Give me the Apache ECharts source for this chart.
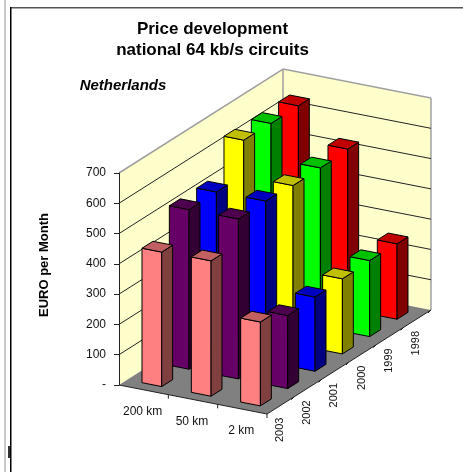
<!DOCTYPE html>
<html>
<head>
<meta charset="utf-8">
<style>html,body{margin:0;padding:0;background:#fff}#c{width:463px;height:472px}</style>
<script src="https://cdn.jsdelivr.net/npm/echarts@6/dist/echarts.min.js"></script>
</head>
<body>
<div id="c"></div>
<script>
var categories = ['200 km', '50 km', '2 km'];
var years = ['2003', '2002', '2001', '2000', '1999', '1998'];
var yTicks = [100, 200, 300, 400, 500, 600];
var v1998 = [641, 530, 249];
var v1999 = [640, 525, 251];
var v2000 = [642, 524, 248];
var v2001 = [528, 530, 245];
var v2002 = [527, 528, 241];
var v2003 = [444, 447, 277];
var front = ['#FF0000', '#00FF00', '#FFFF00', '#0000FF', '#660066', '#FF8080'];
var side = ['#800000', '#008000', '#808000', '#000080', '#330033', '#804040'];
var top3 = ['#C00000', '#00C000', '#C0C000', '#0000C0', '#4D004D', '#C06060'];
var rows = [v1998, v1999, v2000, v2001, v2002, v2003];
var rowDepth = [5, 4, 3, 2, 1, 0];

var YMAX = 700, DEPTHS = years.length, CATS = categories.length;
var CAT_RISE = 9.67, DEPTH_DX = 27.33, DEPTH_RISE = -17.33;
var GAP = 0.3, FONT = '"Liberation Sans", Arial, sans-serif';

function project(api, c, d, v) {
  var p = api.coord([0, v]), band = api.size([1, 0])[0];
  return [p[0] - band / 2 + c * band + d * DEPTH_DX, p[1] + c * CAT_RISE + d * DEPTH_RISE];
}
function poly(points, fill, stroke, lw) {
  return { type: 'polygon', shape: { points: points },
    style: { fill: fill, stroke: stroke || null, lineWidth: lw || 0 } };
}
function line(a, b, stroke, lw) {
  return { type: 'line', shape: { x1: a[0], y1: a[1], x2: b[0], y2: b[1] },
    style: { stroke: stroke, lineWidth: lw || 1, fill: null } };
}
function label(p, text, rot) {
  return { type: 'text', x: p[0], y: p[1], rotation: rot || 0,
    style: { text: text, font: (rot ? '11px ' : '12px ') + FONT, fill: '#111', align: 'center', verticalAlign: 'middle' } };
}

function renderRoom(params, api) {
  var C = CATS, D = DEPTHS;
  var o = project(api, 0, 0, 0), oT = project(api, 0, 0, YMAX);
  var b = project(api, 0, D, 0), bT = project(api, 0, D, YMAX);
  var r = project(api, C, D, 0), rT = project(api, C, D, YMAX);
  var f = project(api, C, 0, 0);
  var kids = [
    poly([o, oT, bT, b], '#FFFFCC'),
    poly([b, bT, rT, r], '#FFFFCC'),
    poly([o, b, r, f], '#808080'),
    line(oT, bT, '#A0A0A0', 1.5), line(bT, rT, '#A0A0A0', 1.5),
    line(b, bT, '#A0A0A0', 1.5), line(r, rT, '#A0A0A0', 1.5),
    line(o, f, '#222', 1), line(f, r, '#222', 1)
  ];
  yTicks.forEach(function (t) {
    var a = project(api, 0, 0, t), m = project(api, 0, D, t), e = project(api, C, D, t);
    kids.push(line(a, m, '#222', 1), line(m, e, '#222', 1));
  });
  categories.forEach(function (name, i) {
    var q = project(api, i + 1, 0, 0);
    kids.push(line(q, [q[0], q[1] + 4], '#222', 1));
    var m = project(api, i + 0.5, 0, 0);
    kids.push(label([m[0] - 1, m[1] + 22], name));
  });
  years.forEach(function (name, i) {
    var q = project(api, C, i + 1, 0);
    kids.push(line(q, [q[0] - 3, q[1] + 3], '#222', 1));
    var m = project(api, C, i + 0.5, 0);
    kids.push(label([m[0] - 1, m[1] + 24.5], name, Math.PI / 2));
  });
  return { type: 'group', children: kids };
}

function barRenderer(rowIndex) {
  return function (params, api) {
    var c = api.value(0), v = api.value(1), d = rowDepth[rowIndex];
    var c0 = c + GAP, c1 = c + 1 - GAP, d0 = d + GAP, d1 = d + 1 - GAP;
    var fl = project(api, c0, d0, 0), fr = project(api, c1, d0, 0), br = project(api, c1, d1, 0);
    var tfl = project(api, c0, d0, v), tfr = project(api, c1, d0, v);
    var tbr = project(api, c1, d1, v), tbl = project(api, c0, d1, v);
    return { type: 'group', children: [
      poly([fl, fr, tfr, tfl], front[rowIndex], '#000', 1),
      poly([fr, br, tbr, tfr], side[rowIndex], '#000', 1),
      poly([tfl, tfr, tbr, tbl], top3[rowIndex], '#000', 1)
    ] };
  };
}

var series = [{
  type: 'custom', name: 'room', z: 1, silent: true, clip: false,
  data: [[0, 0]], renderItem: renderRoom
}];
rows.forEach(function (vals, i) {
  series.push({
    type: 'custom', name: years[rowDepth[i]], z: 2, clip: false,
    data: vals.map(function (v, c) { return [c, v]; }),
    renderItem: barRenderer(i)
  });
});

var chart = echarts.init(document.getElementById('c'), null, { renderer: 'canvas' });
chart.setOption({
  animation: false,
  backgroundColor: '#fff',
  title: {
    text: 'Price development\nnational 64 kb/s circuits',
    left: 207.5, top: 14, textAlign: 'center',
    textStyle: { fontFamily: FONT, fontWeight: 'bold', fontSize: 17, lineHeight: 21, color: '#000' }
  },
  grid: { left: 119, top: 173, width: 148, height: 212 },
  xAxis: { type: 'category', data: categories, show: false },
  yAxis: {
    type: 'value', min: 0, max: YMAX, interval: 100, z: 5,
    splitLine: { show: false },
    axisLine: { show: true, lineStyle: { color: '#222', width: 1 } },
    axisTick: { show: true, length: 5, lineStyle: { color: '#222' } },
    axisLabel: { margin: 13, fontFamily: FONT, fontSize: 12, color: '#111',
      formatter: function (v) { return v === 0 ? '-' : String(v); } }
  },
  graphic: [
    { type: 'rect', silent: true, shape: { x: 4, y: 0, width: 2, height: 472 }, style: { fill: '#C8C8C8' } },
    { type: 'rect', silent: true, shape: { x: 10, y: 7, width: 453, height: 1.5 }, style: { fill: '#555' } },
    { type: 'rect', silent: true, shape: { x: 10, y: 7, width: 1.5, height: 465 }, style: { fill: '#000' } },
    { type: 'rect', silent: true, shape: { x: 8, y: 446, width: 2, height: 12 }, style: { fill: '#333' } },
    { type: 'text', silent: true, x: 123, y: 86,
      style: { text: 'Netherlands', font: 'italic bold 15px ' + FONT, fill: '#000', align: 'center', verticalAlign: 'middle' } },
    { type: 'text', silent: true, x: 44, y: 265, rotation: Math.PI / 2,
      style: { text: 'EURO per Month', font: 'bold 13px ' + FONT, fill: '#000', align: 'center', verticalAlign: 'middle' } }
  ],
  series: series
});
</script>
</body>
</html>
